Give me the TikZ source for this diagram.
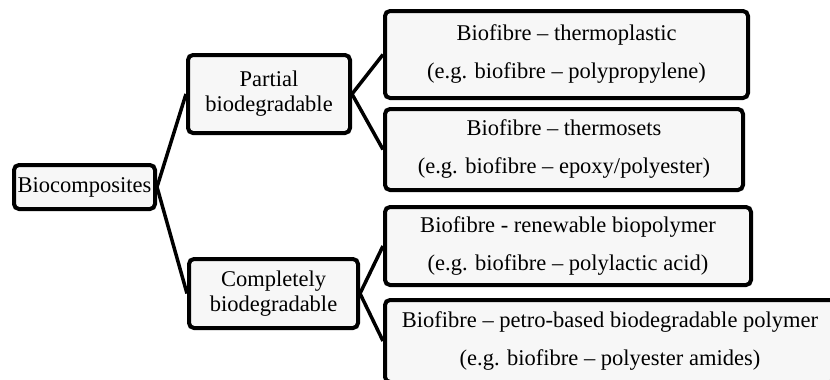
\documentclass[tikz,border=0pt]{standalone}
\usepackage{fontspec}
\setmainfont{Liberation Serif}
\definecolor{boxgray}{HTML}{F7F7F7}
\tikzset{
catbox/.style={draw, line width=4pt, rounded corners=5pt, fill=boxgray, align=center, inner sep=2pt}, % every box of the tree
tightlines/.style={font=\fontsize{22.5}{25}\selectfont}, % the two middle boxes
looselines/.style={font=\fontsize{22.5}{38}\selectfont}, % the four boxes on the right
link/.style={line width=3.5pt}, % lines between the boxes
}
\begin{document}
\begin{tikzpicture}[x=1pt, y=-1pt]
    \useasboundingbox (0,0) rectangle (830,380);
    \clip (0,0) rectangle (830,380);
    % root
    \node[catbox, tightlines, minimum width=141pt, minimum height=44pt] (bio) at (84.5,187) {Biocomposites};
    % middle level
    \node[catbox, tightlines, minimum width=162pt, minimum height=78pt] (partial) at (269,94) {Partial\\biodegradable};
    \node[catbox, tightlines, minimum width=169pt, minimum height=69pt] (complete) at (273.5,293.5) {Completely\\biodegradable};
    % leaves
    \node[catbox, looselines, minimum width=363pt, minimum height=87pt] (thermoplastic) at (566.5,54.5)
        {Biofibre -- thermoplastic\\(e.g. biofibre -- polypropylene)};
    \node[catbox, looselines, minimum width=358pt, minimum height=81pt] (thermosets) at (564,149.5)
        {Biofibre -- thermosets\\(e.g. biofibre -- epoxy/polyester)};
    \node[catbox, looselines, minimum width=366pt, minimum height=78pt] (renewable) at (568,246)
        {Biofibre - renewable biopolymer\\(e.g. biofibre -- polylactic acid)};
    \node[catbox, looselines, minimum width=450pt, minimum height=82pt] (petro) at (610,341)
        {Biofibre -- petro-based biodegradable polymer\\(e.g. biofibre -- polyester amides)};
    \draw[link]
        (bio.east) -- (partial.west)
        (bio.east) -- (complete.west)
        (partial.east) -- (thermoplastic.west)
        (partial.east) -- (thermosets.west)
        (complete.east) -- (renewable.west)
        (complete.east) -- (petro.west)
        ;
\end{tikzpicture}
\end{document}
